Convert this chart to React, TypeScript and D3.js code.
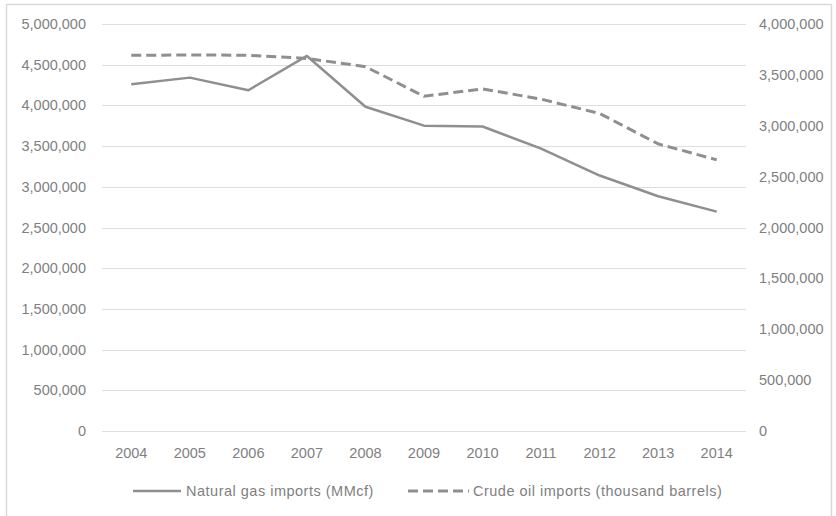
import React from "react";
import * as d3 from "d3";

const years = ["2004","2005","2006","2007","2008","2009","2010","2011","2012","2013","2014"];
const naturalGas = [4259412, 4341136, 4186429, 4607582, 3984101, 3751360, 3740757, 3469220, 3138380, 2883355, 2695378];
const crudeOil = [3692063, 3695971, 3693081, 3661404, 3580694, 3289675, 3362856, 3261422, 3120755, 2821480, 2665000];
const leftTicks = [0, 500000, 1000000, 1500000, 2000000, 2500000, 3000000, 3500000, 4000000, 4500000, 5000000];
const rightTicks = [0, 500000, 1000000, 1500000, 2000000, 2500000, 3000000, 3500000, 4000000];
const seriesNames = ["Natural gas imports (MMcf)", "Crude oil imports (thousand barrels)"];

const W = 836, H = 516;
const plot = { left: 102, right: 746, top: 24, bottom: 431 };
const FONT = "'Liberation Sans', Arial, sans-serif";
const TEXT = "#7f7f7f";
const LINE = "#8f8f8f";
const GRID = "#dedede";

export default function App() {
  const x = d3.scaleBand<string>().domain(years).range([plot.left, plot.right]);
  const yL = d3.scaleLinear().domain([0, 5000000]).range([plot.bottom, plot.top]);
  const yR = d3.scaleLinear().domain([0, 4000000]).range([plot.bottom, plot.top]);
  const cx = (y: string) => (x(y) as number) + x.bandwidth() / 2;
  const fmt = d3.format(",");
  const gasLine = d3.line<number>().x((_, i) => cx(years[i])).y((d) => yL(d))(naturalGas) as string;
  const oilLine = d3.line<number>().x((_, i) => cx(years[i])).y((d) => yR(d))(crudeOil) as string;
  const fs = 14.5;
  return (
    <div style={{ position: "absolute", left: 0, top: 0 }}>
      <svg width={W} height={H} style={{ display: "block", background: "#fff" }}>
        <rect x={6.5} y={4.5} width={825} height={520} fill="#fff" stroke="#d9d9d9" strokeWidth={1.5} />
        {leftTicks.map((t) => (
          <line key={"g" + t} x1={plot.left} x2={plot.right} y1={Math.round(yL(t)) + 0.5} y2={Math.round(yL(t)) + 0.5} stroke={GRID} strokeWidth={1} />
        ))}
        {leftTicks.map((t) => (
          <text key={"l" + t} x={86} y={yL(t)} dy="0.35em" textAnchor="end" fontFamily={FONT} fontSize={fs} fill={TEXT}>{fmt(t)}</text>
        ))}
        {rightTicks.map((t) => (
          <text key={"r" + t} x={759} y={yR(t)} dy="0.35em" textAnchor="start" fontFamily={FONT} fontSize={fs} fill={TEXT}>{fmt(t)}</text>
        ))}
        {years.map((yr) => (
          <text key={yr} x={cx(yr)} y={453} dy="0.35em" textAnchor="middle" fontFamily={FONT} fontSize={fs} fill={TEXT}>{yr}</text>
        ))}
        <path d={gasLine} fill="none" stroke={LINE} strokeWidth={2.5} strokeLinejoin="round" />
        <path d={oilLine} fill="none" stroke={LINE} strokeWidth={3} strokeDasharray="10,5" />
        <line x1={133} x2={181} y1={491} y2={491} stroke={LINE} strokeWidth={2.5} />
        <text x={186} y={491} dy="0.35em" fontFamily={FONT} fontSize={fs} letterSpacing={0.5} fill={TEXT}>{seriesNames[0]}</text>
        <line x1={408} x2={469} y1={491} y2={491} stroke={LINE} strokeWidth={3} strokeDasharray="10,5" />
        <text x={473} y={491} dy="0.35em" fontFamily={FONT} fontSize={fs} letterSpacing={0.5} fill={TEXT}>{seriesNames[1]}</text>
      </svg>
    </div>
  );
}
